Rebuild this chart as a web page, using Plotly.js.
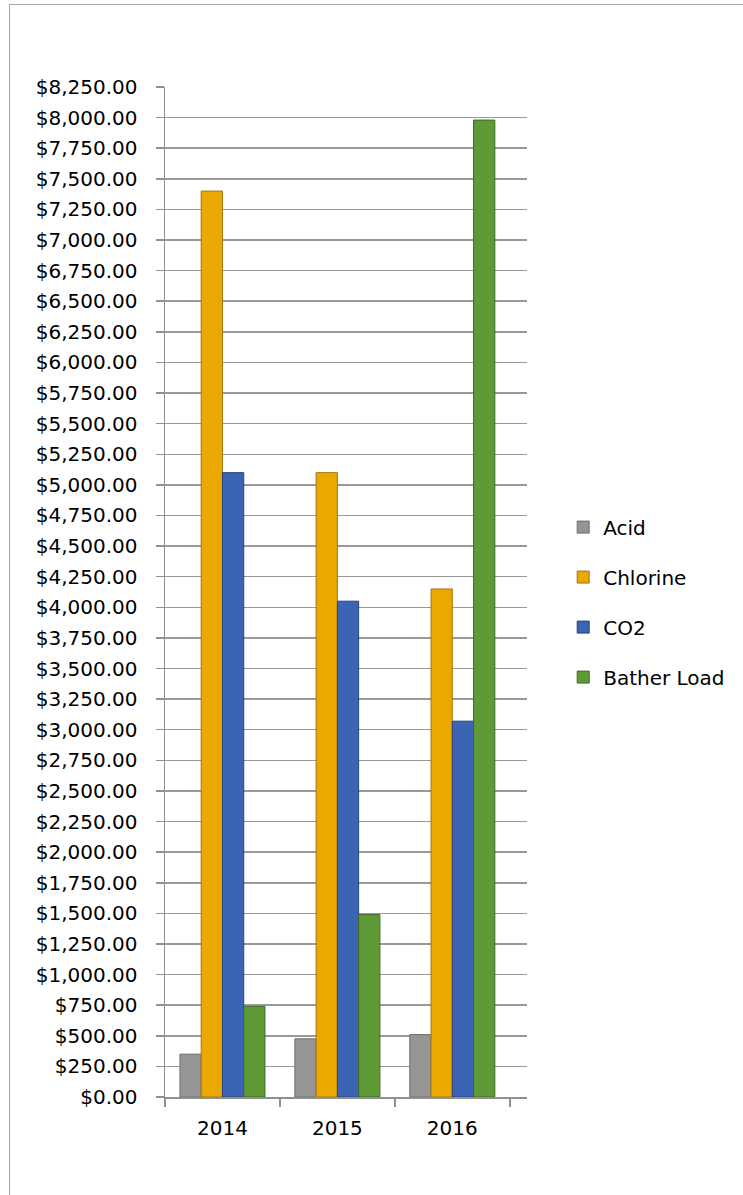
<!DOCTYPE html>
<html>
<head>
<meta charset="utf-8">
<script src="https://cdn.plot.ly/plotly-3.0.1.min.js"></script>
<style>
  html, body { margin: 0; padding: 0; background: #ffffff; }
  #wrap { position: relative; width: 743px; height: 1195px; overflow: hidden; }
  #chart { width: 743px; height: 1195px; }
  #frame { position: absolute; left: 9px; top: 4px; width: 760px; height: 1220px;
           border: 1.5px solid #a6a6a6; pointer-events: none; }
</style>
</head>
<body>
<div id="wrap">
  <div id="chart"></div>
  <div id="frame"></div>
</div>
<script>
// ---- data ----
const years = ['2014', '2015', '2016'];
const seriesNames = ['Acid', 'Chlorine', 'CO2', 'Bather Load'];
const acid = [350, 475, 510];
const chlorine = [7400, 5100, 4150];
const co2 = [5100, 4050, 3070];
const batherLoad = [740, 1490, 7980];
const yTickVals = [0,250,500,750,1000,1250,1500,1750,2000,2250,2500,2750,3000,3250,3500,3750,4000,4250,4500,4750,5000,5250,5500,5750,6000,6250,6500,6750,7000,7250,7500,7750,8000,8250];

const fills = ['#959595', '#eaa800', '#3b64b5', '#5f9a36'];
const edges = ['#6e6e6e', '#a47614', '#27447d', '#3f6a26'];
const values = [acid, chlorine, co2, batherLoad];

const traces = values.map((v, i) => ({
  type: 'bar',
  name: seriesNames[i],
  x: years,
  y: v,
  legendgroup: 'g' + i,
  marker: { color: fills[i], line: { color: edges[i], width: 1 } },
  hoverinfo: 'x+y+name'
}));

const font = { family: 'DejaVu Sans, Liberation Sans, sans-serif', size: 20, color: '#000000' };

const layout = {
  width: 743,
  height: 1195,
  paper_bgcolor: '#ffffff',
  plot_bgcolor: '#ffffff',
  margin: { l: 165, r: 216, t: 87, b: 98, pad: 0 },
  font: font,
  barmode: 'group',
  bargap: 0.26,
  bargroupgap: 0,
  showlegend: true,
  legend: {
    x: 1.10, xanchor: 'left',
    y: 0.49, yanchor: 'middle',
    traceorder: 'grouped',
    tracegroupgap: 21,
    font: { family: font.family, size: 20, color: '#000000' },
    bgcolor: 'rgba(0,0,0,0)'
  },
  xaxis: {
    type: 'category',
    range: [-0.5, 2.65],
    tickson: 'boundaries',
    ticks: 'outside',
    ticklen: 8,
    tickcolor: '#8f8f8f',
    tickwidth: 1.5,
    showline: true,
    linecolor: '#8f8f8f',
    linewidth: 1.5,
    showgrid: false,
    zeroline: false,
    ticklabelstandoff: 12,
    tickfont: { family: font.family, size: 20, color: '#000000' }
  },
  yaxis: {
    range: [0, 8250],
    tickmode: 'array',
    tickvals: yTickVals,
    tickformat: '$,.2f',
    ticks: 'outside',
    ticklen: 8,
    tickcolor: '#8f8f8f',
    tickwidth: 1.5,
    showline: true,
    linecolor: '#8f8f8f',
    linewidth: 1.5,
    showgrid: true,
    gridcolor: '#999999',
    gridwidth: 1.5,
    zeroline: false,
    ticklabelstandoff: 14,
    tickfont: { family: font.family, size: 20, color: '#000000' }
  }
};

Plotly.newPlot('chart', traces, layout, { displayModeBar: false, staticPlot: true });
</script>
</body>
</html>
